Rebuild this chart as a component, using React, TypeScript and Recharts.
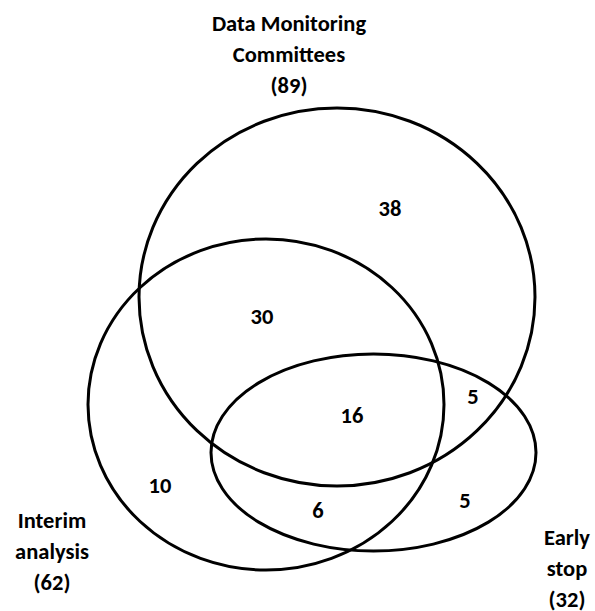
import React from 'react';
import { ScatterChart, Scatter, XAxis, YAxis } from 'recharts';

// Set totals and labels
const setNames = ['Data Monitoring|Committees', 'Interim|analysis', 'Early|stop'];
const setTotals = [89, 62, 32];

// Region counts (exclusive regions)
const regionLabels = ['DMC only', 'DMC ∩ Interim', 'All three', 'DMC ∩ Early', 'Interim only', 'Interim ∩ Early', 'Early only'];
const regionCounts = [38, 30, 16, 5, 10, 6, 5];

// Layout (chart units, 1 unit = 1 px)
const W = 595;
const H = 611;
const ellipseLayout = [
  { x: 337, y: 297, rx: 198, ry: 189 },
  { x: 266, y: 404.5, rx: 178, ry: 165.5 },
  { x: 373.5, y: 452.5, rx: 162.5, ry: 98.5 },
];
const regionPos = [
  { x: 390, y: 208 },
  { x: 262, y: 316 },
  { x: 352, y: 415 },
  { x: 473, y: 396 },
  { x: 160, y: 485 },
  { x: 318, y: 510 },
  { x: 465, y: 500 },
];
const setLabelPos = [
  { x: 289, y: 23 },
  { x: 52, y: 520 },
  { x: 567, y: 537 },
];
const LINE_GAP = 31;

const FONT = 'Carlito, Calibri, Lato, sans-serif';
const FS = 22.5;

const ellipses = ellipseLayout.map((e, i) => ({ ...e, name: setNames[i] }));
const regions = regionPos.map((p, i) => ({ ...p, name: regionLabels[i], value: regionCounts[i] }));
const setLabels = setLabelPos.map((p, i) => ({
  ...p,
  lines: [...setNames[i].split('|'), `(${setTotals[i]})`],
}));

const scaleX = 1; // px per unit (chart width == domain width)
const scaleY = 1;

const EllipseShape = (props: any) => {
  const { cx, cy, payload } = props;
  return (
    <ellipse
      cx={cx}
      cy={cy}
      rx={payload.rx * scaleX}
      ry={payload.ry * scaleY}
      fill="none"
      stroke="#000"
      strokeWidth={3}
    />
  );
};

const CountShape = (props: any) => {
  const { cx, cy, payload } = props;
  return (
    <text
      x={cx}
      y={cy}
      textAnchor="middle"
      dominantBaseline="central"
      fontFamily={FONT}
      fontWeight="bold"
      fontSize={FS}
      fill="#000"
    >
      {payload.value}
    </text>
  );
};

const SetLabelShape = (props: any) => {
  const { cx, cy, payload } = props;
  return (
    <g>
      {payload.lines.map((l: string, i: number) => (
        <text
          key={i}
          x={cx}
          y={cy + i * LINE_GAP}
          textAnchor="middle"
          dominantBaseline="central"
          fontFamily={FONT}
          fontWeight="bold"
          fontSize={FS}
          fill="#000"
        >
          {l}
        </text>
      ))}
    </g>
  );
};

export default function App() {
  return (
    <div style={{ position: 'absolute', left: 0, top: 0, background: '#fff' }}>
      <ScatterChart width={W} height={H} margin={{ top: 0, right: 0, bottom: 0, left: 0 }}>
        <XAxis type="number" dataKey="x" domain={[0, W]} hide />
        <YAxis type="number" dataKey="y" domain={[0, H]} reversed hide />
        <Scatter data={ellipses} shape={EllipseShape} isAnimationActive={false} />
        <Scatter data={regions} shape={CountShape} isAnimationActive={false} />
        <Scatter data={setLabels} shape={SetLabelShape} isAnimationActive={false} />
      </ScatterChart>
    </div>
  );
}
